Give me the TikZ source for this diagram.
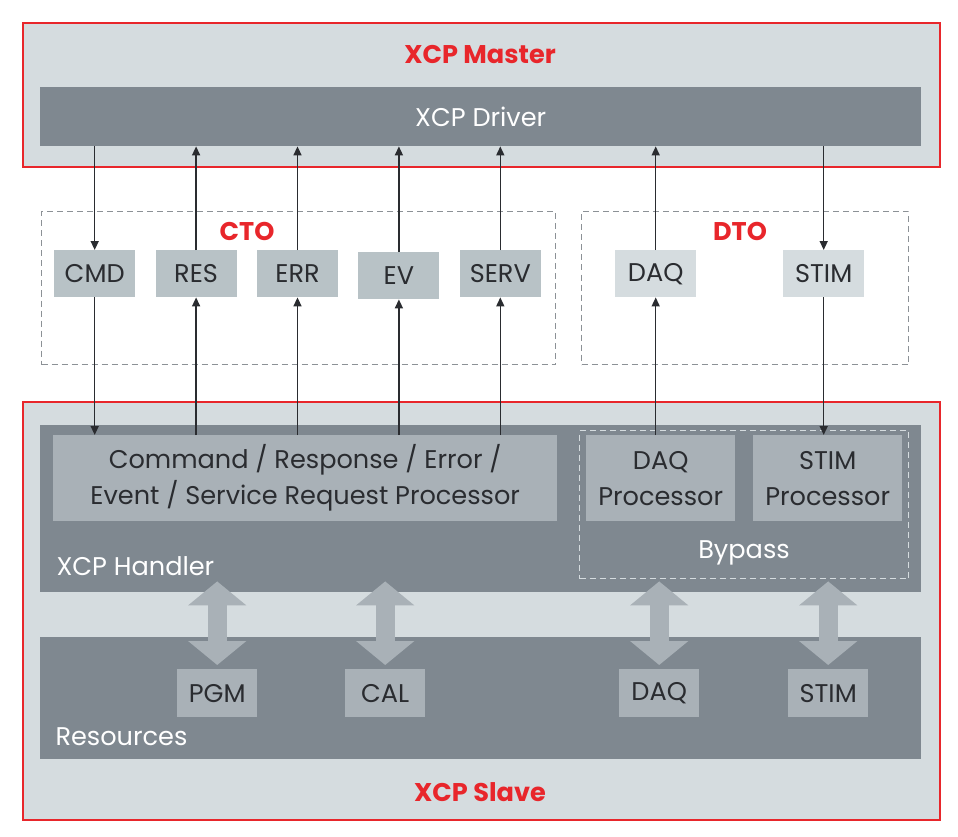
\documentclass[tikz,border=0pt]{standalone}
\usepackage{fontspec}
\setmainfont{Poppins}
\usetikzlibrary{arrows.meta,positioning}
\definecolor{xcpred}{HTML}{E8262B}
\definecolor{xcplight}{HTML}{D5DCDF}
\definecolor{xcpdark}{HTML}{7F8890}
\definecolor{xcpmid}{HTML}{B8C2C6}
\definecolor{xcpproc}{HTML}{A9B1B7}
\definecolor{xcpgroup}{HTML}{8C9196}
\definecolor{xcptext}{HTML}{2A2C30}
\newcommand\xcpfont{\fontsize{25.6}{36}\selectfont}

\begin{document}
\begin{tikzpicture}[x=1pt, y=-1pt,
  node distance=20pt,
  frame/.style={draw=xcpred, line width=2pt, fill=xcplight, inner sep=0pt, anchor=north west},
  bar/.style={fill=xcpdark, inner sep=0pt, anchor=north west},
  group/.style={draw=xcpgroup, dash pattern=on 6pt off 4pt, line width=1pt, inner sep=0pt, anchor=north west},
  box/.style={fill=xcpmid, inner sep=0pt, text=xcptext, font=\xcpfont, align=center},
  msgbox/.style={box, minimum width=81pt, minimum height=47pt},
  procbox/.style={box, fill=xcpproc, minimum height=86pt, anchor=north west},
  resbox/.style={box, fill=xcpproc, minimum width=80pt, minimum height=48pt, anchor=north west},
  title/.style={text=xcpred, font=\xcpfont\bfseries},
  bartext/.style={text=white, font=\xcpfont},
  line/.style={-{Triangle[length=9pt,width=8pt]}, line width=1.5pt, draw=xcptext},
  fat/.style={{Triangle[length=24pt,width=57pt]}-{Triangle[length=24pt,width=57pt]}, line width=19pt, draw=xcpproc}
]
\useasboundingbox (0,0) rectangle (958,837);

% master side
\node[frame, minimum width=917pt, minimum height=144pt] (master) at (22,22) {};
\node[title] (mastertitle) at (480,55) {XCP Master};
\node[bar, bartext, minimum width=881pt, minimum height=59pt] (driver) at (40,87) {XCP Driver};

% packet groups
\node[group, minimum width=514pt, minimum height=153pt] (cto) at (41,211) {};
\node[group, minimum width=327pt, minimum height=153pt] (dto) at (581,211) {};
\node[title] (ctotitle) at (247,231) {CTO};
\node[title] (dtotitle) at (740,231) {DTO};

\node[msgbox, anchor=north west] (cmd) at (54,250) {CMD};
\node[msgbox, right=of cmd] (res) {RES};
\node[msgbox, right=of res] (err) {ERR};
\node[msgbox, right=of err, yshift=-2pt] (ev) {EV};
\node[msgbox, right=of ev, yshift=2pt] (serv) {SERV};
\node[msgbox, fill=xcplight, anchor=north west] (daq) at (615,250) {DAQ};
\node[msgbox, fill=xcplight, anchor=north west] (stim) at (783,250) {STIM};

% slave side
\node[frame, minimum width=917pt, minimum height=418pt] (slave) at (22,401) {};
\node[bar, minimum width=881pt, minimum height=167pt] (handler) at (40,425) {};
\node[bartext, anchor=west] (handlertext) at (53,566) {XCP Handler};
\node[group, draw=xcplight, minimum width=329pt, minimum height=148pt] (bypass) at (579,430) {};
\node[bartext] (bypasstext) at (744,553) {Bypass};
\node[procbox, minimum width=504pt] (cmdproc) at (53,435) {Command / Response / Error /\\Event / Service Request Processor};
\node[procbox, minimum width=149pt] (daqproc) at (586,435) {DAQ\\Processor};
\node[procbox, minimum width=149pt] (stimproc) at (753,435) {STIM\\Processor};

\node[bar, minimum width=881pt, minimum height=122pt] (resources) at (40,637) {};
\node[bartext, anchor=west] (resourcestext) at (52,737) {Resources};
\node[resbox] (pgm) at (177,669) {PGM};
\node[resbox] (cal) at (345,669) {CAL};
\node[resbox] (resdaq) at (619,669) {DAQ};
\node[resbox] (resstim) at (788,669) {STIM};
\node[title] (slavetitle) at (480,792) {XCP Slave};

% master <-> packets
\draw[line] (cmd.north |- driver.south) -- (cmd);
\draw[line] (res) -- (res.north |- driver.south);
\draw[line] (err) -- (err.north |- driver.south);
\draw[line] (ev) -- (ev.north |- driver.south);
\draw[line] (serv) -- (serv.north |- driver.south);
\draw[line] (daq) -- (daq.north |- driver.south);
\draw[line] (stim.north |- driver.south) -- (stim);

% packets <-> slave
\draw[line] (cmd) -- (cmd.south |- cmdproc.north);
\draw[line] (res.south |- cmdproc.north) -- (res);
\draw[line] (err.south |- cmdproc.north) -- (err);
\draw[line] (ev.south |- cmdproc.north) -- (ev);
\draw[line] (serv.south |- cmdproc.north) -- (serv);
\draw[line] (daq.south |- daqproc.north) -- (daq);
\draw[line] (stim) -- (stim.south |- stimproc.north);

% handler <-> resources
\foreach \r in {pgm, cal, resdaq, resstim}
  \draw[fat] ([yshift=11pt]\r.north |- handler.south) -- ([yshift=4pt]\r.north);
\end{tikzpicture}
\end{document}
